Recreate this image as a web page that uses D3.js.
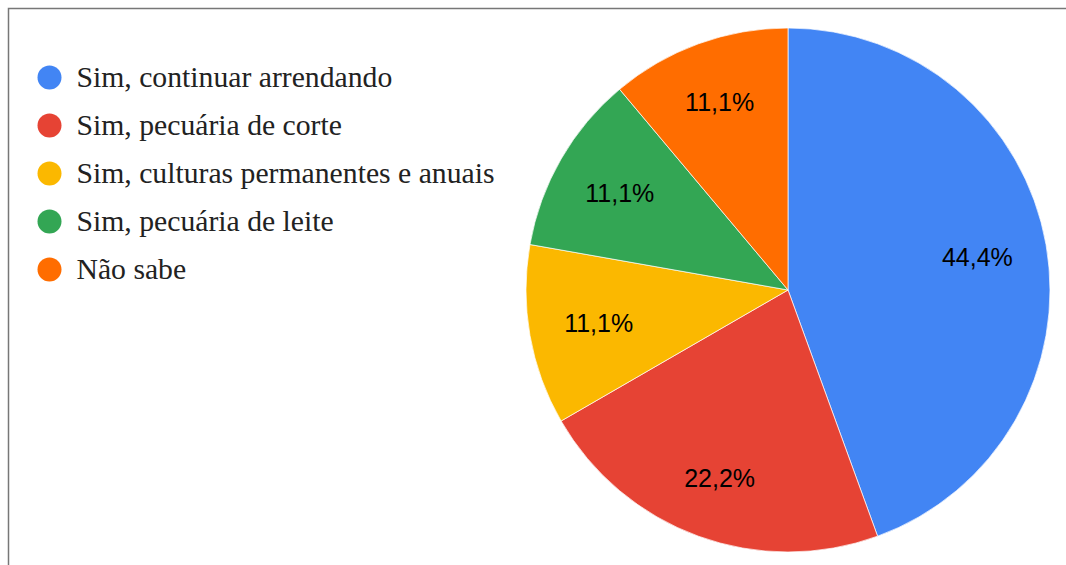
<!DOCTYPE html>
<html>
<head>
<meta charset="utf-8">
<script src="https://cdn.jsdelivr.net/npm/d3@7"></script>
<style>
  body { margin: 0; background: #fff; }
</style>
</head>
<body>
<svg id="pie"></svg>
<script>
const svg_width = 1066;
const svg_height = 565;

// chart data
const categories = [
  "Sim, continuar arrendando",
  "Sim, pecuária de corte",
  "Sim, culturas permanentes e anuais",
  "Sim, pecuária de leite",
  "Não sabe"
];
const shares = [44.4, 22.2, 11.1, 11.1, 11.1];
const colors = ["#4285f4", "#e64334", "#fbb800", "#33a654", "#ff6d00"];

var center = { x: 788, y: 290 };
var radius = 262;

var svg = d3.select("svg#pie")
    .attr("width", svg_width)
    .attr("height", svg_height);

// frame
svg.append("path")
    .attr("d", "M8.5," + svg_height + " V8.5 H" + svg_width)
    .style("fill", "none")
    .style("stroke", "#777")
    .style("stroke-width", 1.5);

var data = categories.map((c, i) => ({ name: c, value: shares[i], color: colors[i] }));

var pie = d3.pie()
    .sort(null)
    .value(d => d.value);

var arc = d3.arc()
    .innerRadius(0)
    .outerRadius(radius);

// labels sit a bit further out near the top and bottom of the pie
function label_pos(d) {
  let a = (d.startAngle + d.endAngle) / 2;
  let r = 192 + 9 * Math.cos(a) * Math.cos(a);
  return [r * Math.sin(a), -r * Math.cos(a)];
}

var g = svg.append("g")
    .attr("transform", translate(center.x, center.y));

g.selectAll("path.slice")
  .data(pie(data))
  .enter()
  .append("path")
  .attr("class", "slice")
  .attr("d", arc)
  .attr("fill", d => d.data.color)
  .style("stroke", "#fff")
  .style("stroke-width", 0.7);

g.selectAll("text.pct")
  .data(pie(data))
  .enter()
  .append("text")
  .attr("class", "pct")
  .attr("transform", d => "translate(" + label_pos(d) + ")")
  .attr("text-anchor", "middle")
  .attr("dy", 9)
  .style("font-family", "'Liberation Sans', Arial, sans-serif")
  .style("font-size", "25px")
  .style("fill", "#000")
  .text(d => String(d.data.value).replace(".", ",") + "%");

// legend
var legend = svg.append("g")
    .attr("transform", translate(49.5, 77.5));

var items = legend.selectAll("g.item")
  .data(data)
  .enter()
  .append("g")
  .attr("class", "item")
  .attr("transform", (d, i) => translate(0, i * 48));

items.append("circle")
  .attr("r", 12)
  .attr("fill", d => d.color);

items.append("text")
  .attr("x", 27)
  .attr("y", 9)
  .style("font-family", "'Liberation Serif', 'Times New Roman', serif")
  .style("font-size", "29.7px")
  .style("fill", "#222")
  .text(d => d.name);

function translate(x, y) {
  return "translate(" + String(x) + "," + String(y) + ")";
}
</script>
</body>
</html>
